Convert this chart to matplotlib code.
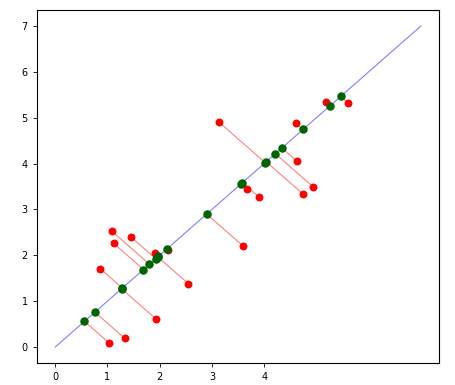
import numpy as np
import matplotlib
matplotlib.use("Agg")
import matplotlib.pyplot as plt

# Original (red) points
x_orig = [1.03, 1.33, 1.93, 0.86, 1.08, 1.12, 1.46, 1.91, 2.55, 3.60, 3.13,
          3.68, 3.90, 4.75, 4.94, 4.62, 4.61, 5.18, 5.61, 2.15]
y_orig = [0.09, 0.19, 0.61, 1.71, 2.53, 2.26, 2.39, 2.04, 1.38, 2.20, 4.91,
          3.45, 3.27, 3.33, 3.49, 4.06, 4.88, 5.35, 5.32, 2.12]

# Principal direction line
line_x = [0, 7]
line_y = [0, 7]

xticks = [0, 1, 2, 3, 4]
yticks = [0, 1, 2, 3, 4, 5, 6, 7]

xo = np.array(x_orig)
yo = np.array(y_orig)
# projections onto the line y = x
proj = (xo + yo) / 2.0

fig = plt.figure(figsize=(4.56, 3.85), dpi=100)
ax = fig.add_axes([0.081, 0.057, 0.882, 0.917])

ax.plot(line_x, line_y, color='blue', lw=0.8, alpha=0.5, zorder=1)
for a, b, p in zip(xo, yo, proj):
    ax.plot([a, p], [b, p], color='red', lw=0.8, alpha=0.5, zorder=1)
ax.scatter(xo, yo, color='red', s=22, zorder=2)
ax.scatter(proj, proj, color='darkgreen', s=26, zorder=3)

ax.set_xlim(-0.35, 7.35)
ax.set_ylim(-0.35, 7.35)
ax.set_xticks(xticks)
ax.set_yticks(yticks)
ax.tick_params(labelsize=7, length=3, width=0.6)
for s in ax.spines.values():
    s.set_linewidth(0.8)

fig.savefig("out.png", dpi=100)
